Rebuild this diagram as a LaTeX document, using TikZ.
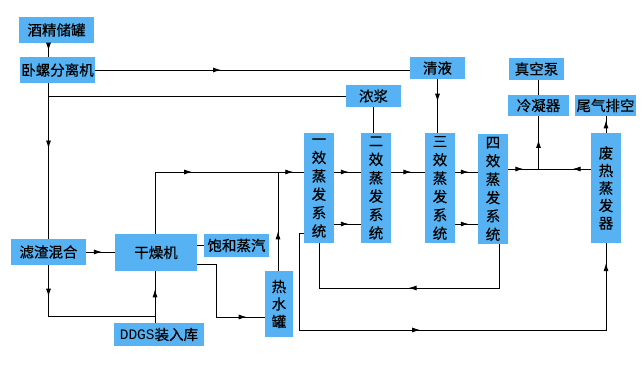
\documentclass[tikz,border=0pt]{standalone}
\usepackage{fontspec}
\setmainfont[FakeBold=0.4]{Noto Sans CJK SC}
\setmonofont{Liberation Mono}
\usetikzlibrary{arrows.meta, decorations.markings, positioning}
\definecolor{BoxBlue}{RGB}{86,178,242}

\begin{document}
\begin{tikzpicture}[
    x=1pt, y=-1pt,
    font=\fontsize{14.5}{18.4}\selectfont,
    box/.style={fill=BoxBlue, inner sep=0pt, align=center, text=black},
    evap/.style={box, minimum width=30pt, minimum height=110pt},
    line/.style={line width=0.9pt, black},
    arrowat/.style={postaction={decorate, decoration={markings,
        mark=at position #1 with {\arrow{Latex[length=8pt,width=5pt]}}}}},
]
\useasboundingbox (0,0) rectangle (642,379);

% --- 原料与分离 ---
\node[box, minimum width=75pt, minimum height=26pt] (tank) at (56.5,30) {酒精储罐};
\node[box, minimum width=75pt, minimum height=26pt] (sep) at (57.5,70) {卧螺分离机};
\node[box, minimum width=55pt, minimum height=22pt] (clear) at (437.5,68) {清液};
\node[box, minimum width=55pt, minimum height=22pt] (slurry) at (373.5,96) {浓浆};
\node[box, minimum width=55pt, minimum height=22pt] (pump) at (536.5,69) {真空泵};
\node[box, minimum width=61pt, minimum height=21pt] (cond) at (538.5,105.5) {冷凝器};
\node[box, minimum width=61pt, minimum height=21pt] (exhaust) at (605.5,105.5) {尾气排空};

% --- 四效蒸发 ---
\node[evap] (ev1) at (319,188) {一\\效\\蒸\\发\\系\\统};
\node[evap] (ev2) at (376,188) {二\\效\\蒸\\发\\系\\统};
\node[evap] (ev3) at (440,188) {三\\效\\蒸\\发\\系\\统};
\node[evap] (ev4) at (493,189) {四\\效\\蒸\\发\\系\\统};
\node[evap, font=\fontsize{14.5}{17.5}\selectfont] (waste) at (606,188) {废\\热\\蒸\\发\\器};

% --- 干燥 ---
\node[box, minimum width=75pt, minimum height=26pt] (mix) at (48.5,252) {滤渣混合};
\node[box, minimum width=82pt, minimum height=37pt] (dryer) at (156,252.5) {干燥机};
\node[box, minimum width=65pt, minimum height=23pt] (steam) at (236.5,245.5) {饱和蒸汽};
\node[box, minimum width=28pt, minimum height=66pt, font=\fontsize{14.5}{17.5}\selectfont] (hwt) at (279,304) {热\\水\\罐};
\node[box, minimum width=90pt, minimum height=23pt] (ddgs) at (159,334.5) {{\ttfamily DDGS}装入库};

\coordinate (upper) at (0,172);
\coordinate (lower) at (0,224);
\coordinate (jct) at (538.5,169);
\coordinate (bend) at (216,264);
\coordinate (hwin) at (0,317);
\coordinate (ddgsjoin) at (155,316);
\coordinate (ret) at (499,288);
\coordinate (hx) at (299,330);

% --- 连线 ---
\draw[line, arrowat=0.55] (mix.north |- tank.south) -- (mix.north |- sep.north);
\draw[line, arrowat=0.4] (sep.east) -- (sep.east -| clear.west);
\draw[line, arrowat=0.42] (mix.north |- sep.south) -- (mix.north);
\draw[line] (mix.north |- slurry.west) -- (slurry.west);
\draw[line] (slurry.south) -- (slurry.south |- ev2.north);
\draw[line, arrowat=0.42] (clear.south) -- (clear.south |- ev3.north);
\draw[line] (cond.north |- pump.south) -- (cond.north);

\draw[line, arrowat=0.5] (ev4.east |- jct) -- (jct);
\draw[line, arrowat=0.35] (waste.west |- jct) -- (jct);
\draw[line, arrowat=0.55] (jct) -- (cond.south);
\draw[line, arrowat=0.75] (waste.north) -- (waste.north |- exhaust.south);

\draw[line, arrowat=0.55] (ev1.east |- upper) -- (ev2.west |- upper);
\draw[line, arrowat=0.55] (ev1.east |- lower) -- (ev2.west |- lower);
\draw[line, arrowat=0.6] (ev2.east |- upper) -- (ev3.west |- upper);
\draw[line, arrowat=0.6] (ev3.east |- upper) -- (ev4.west |- upper);
\draw[line, arrowat=0.6] (ev3.east |- lower) -- (ev4.west |- lower);

\draw[line, arrowat=0.47, arrowat=0.95] (ddgsjoin |- dryer.north) |- (ev1.west |- upper);
\draw[line, arrowat=0.4] (hwt.north -| 278,0) -- (upper -| 278,0);
\draw[line, arrowat=0.55] (mix.east) -- (mix.east -| dryer.west);
\draw[line] (steam.west) -- (steam.west -| dryer.east);
\draw[line, arrowat=0.85] (dryer.east |- bend) -- (bend) |- (hwt.west |- hwin);
\draw[line, arrowat=0.2] (mix.south) -- (mix.south |- ddgsjoin) -- (ddgsjoin);
\draw[line, arrowat=0.65] (ddgsjoin |- ddgs.north) -- (ddgsjoin |- dryer.south);
\draw[line, arrowat=0.5] (ev4.south -| ret) -- (ret) -| (ev1.south);
\draw[line, arrowat=0.45, arrowat=0.96] (ev1.west |- 0,233) -| (hx) -| (waste.south);

\end{tikzpicture}
\end{document}
